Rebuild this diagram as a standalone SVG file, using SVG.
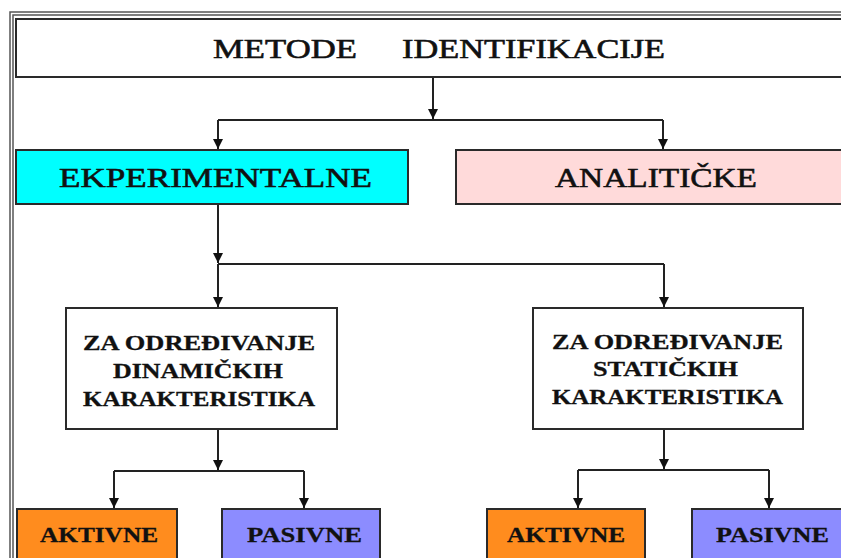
<svg xmlns="http://www.w3.org/2000/svg" width="841" height="558" viewBox="0 0 841 558">
<style>
.box{stroke:#2a2a2a;stroke-width:2}
.white{fill:#ffffff}
.cyan{fill:#00ffff}
.pink{fill:#ffdada}
.orange{fill:#ff8c1e}
.blue{fill:#8c8cff}
.t1{font-family:"Liberation Serif","Times New Roman",serif;font-size:28px;fill:#111;stroke:#111;stroke-width:0.6}
.t2{font-family:"Liberation Serif","Times New Roman",serif;font-size:22px;font-weight:bold;fill:#111;stroke:#111;stroke-width:0.3}
.con{stroke:#222;stroke-width:2;fill:none}
.frame{fill:none;stroke:#555;stroke-width:1.5}
</style>
<defs>
<marker id="ah" markerUnits="userSpaceOnUse" markerWidth="11" markerHeight="11" refX="10" refY="5" orient="auto">
<path d="M0,0 L10,5 L0,10 z" fill="#111"/>
</marker>
</defs>
<rect x="0" y="0" width="841" height="558" fill="#ffffff"/>
<rect class="frame" x="10" y="12" width="860" height="580"/>
<rect class="frame" x="13" y="15" width="860" height="580" stroke="#888"/>

<g id="connectors">
<path class="con" d="M433,77 V119" marker-end="url(#ah)"/>
<path class="con" d="M218,120 H663"/>
<path class="con" d="M218,120 V149" marker-end="url(#ah)"/>
<path class="con" d="M663,120 V149" marker-end="url(#ah)"/>
<path class="con" d="M218,204 V263" marker-end="url(#ah)"/>
<path class="con" d="M218,264 H664"/>
<path class="con" d="M218,264 V307" marker-end="url(#ah)"/>
<path class="con" d="M664,264 V307" marker-end="url(#ah)"/>
<path class="con" d="M218,429 V470" marker-end="url(#ah)"/>
<path class="con" d="M114,471 H304"/>
<path class="con" d="M114,471 V508" marker-end="url(#ah)"/>
<path class="con" d="M304,471 V508" marker-end="url(#ah)"/>
<path class="con" d="M664,429 V469" marker-end="url(#ah)"/>
<path class="con" d="M578,470 H769"/>
<path class="con" d="M578,470 V508" marker-end="url(#ah)"/>
<path class="con" d="M769,470 V508" marker-end="url(#ah)"/>
</g>

<g id="metode">
<rect class="box white" x="16" y="19" width="860" height="58"/>
<text class="t1" x="213" y="58" textLength="144" lengthAdjust="spacingAndGlyphs">METODE</text>
<text class="t1" x="402" y="58" textLength="263" lengthAdjust="spacingAndGlyphs">IDENTIFIKACIJE</text>
</g>

<g id="eksperimentalne">
<rect class="box cyan" x="16" y="150" width="392" height="54"/>
<text class="t1" x="59" y="187" textLength="313" lengthAdjust="spacingAndGlyphs">EKPERIMENTALNE</text>
</g>

<g id="analiticke">
<rect class="box pink" x="456" y="150" width="420" height="54"/>
<text class="t1" x="555" y="187" textLength="202" lengthAdjust="spacingAndGlyphs">ANALITIČKE</text>
</g>

<g id="dinamicke">
<rect class="box white" x="66" y="308" width="271" height="121"/>
<text class="t2" x="83" y="350" textLength="232" lengthAdjust="spacingAndGlyphs">ZA ODREĐIVANJE</text>
<text class="t2" x="113" y="378" textLength="170" lengthAdjust="spacingAndGlyphs">DINAMIČKIH</text>
<text class="t2" x="83" y="406" textLength="232" lengthAdjust="spacingAndGlyphs">KARAKTERISTIKA</text>
</g>

<g id="staticke">
<rect class="box white" x="533" y="308" width="270" height="121"/>
<text class="t2" x="552" y="349" textLength="231" lengthAdjust="spacingAndGlyphs">ZA ODREĐIVANJE</text>
<text class="t2" x="593" y="376" textLength="145" lengthAdjust="spacingAndGlyphs">STATIČKIH</text>
<text class="t2" x="552" y="404" textLength="231" lengthAdjust="spacingAndGlyphs">KARAKTERISTIKA</text>
</g>

<g id="aktivne-d">
<rect class="box orange" x="17" y="509" width="160" height="70"/>
<text class="t2" x="40" y="542" textLength="118" lengthAdjust="spacingAndGlyphs">AKTIVNE</text>
</g>

<g id="pasivne-d">
<rect class="box blue" x="222" y="509" width="158" height="70"/>
<text class="t2" x="247" y="542" textLength="115" lengthAdjust="spacingAndGlyphs">PASIVNE</text>
</g>

<g id="aktivne-s">
<rect class="box orange" x="487" y="509" width="158" height="70"/>
<text class="t2" x="507" y="542" textLength="118" lengthAdjust="spacingAndGlyphs">AKTIVNE</text>
</g>

<g id="pasivne-s">
<rect class="box blue" x="692" y="509" width="170" height="70"/>
<text class="t2" x="716" y="542" textLength="113" lengthAdjust="spacingAndGlyphs">PASIVNE</text>
</g>
</svg>
